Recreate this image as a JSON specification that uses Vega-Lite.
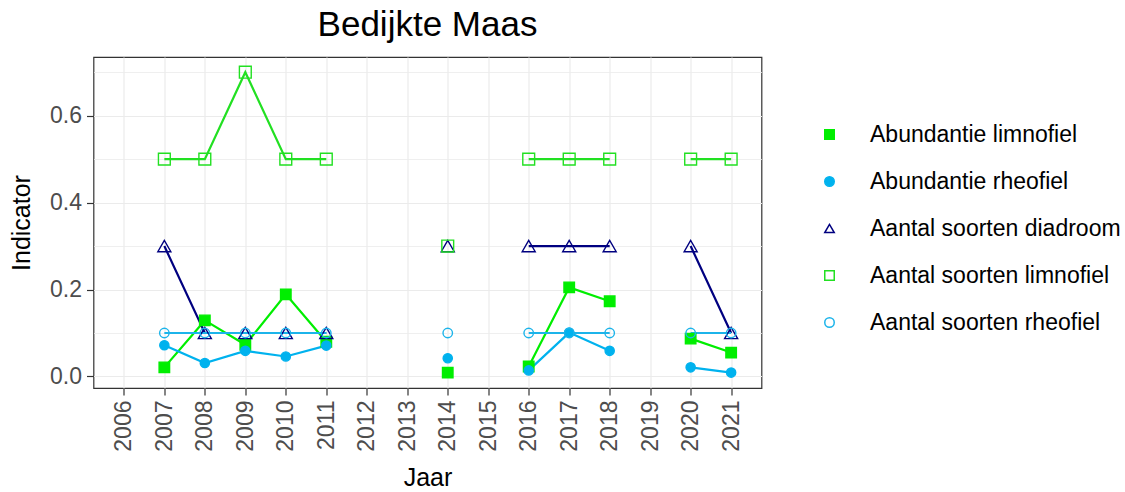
{
  "$schema": "https://vega.github.io/schema/vega-lite/v6.json",
  "width": 668,
  "height": 331,
  "autosize": {"type": "none"},
  "padding": {"left": 93.5, "top": 57, "right": 363.5, "bottom": 104},
  "background": "white",
  "title": {"text": "Bedijkte Maas", "fontSize": 35, "font": "Liberation Sans", "fontWeight": "normal", "color": "black", "anchor": "middle", "offset": 14},
  "config": {
    "font": "Liberation Sans",
    "view": {"stroke": "#333333", "strokeWidth": 1.2},
    "axis": {"domain": false, "gridColor": "#EBEBEB", "gridWidth": 1.2, "tickColor": "#333333", "tickSize": 7, "tickWidth": 1.2, "labelFontSize": 23, "labelColor": "#4D4D4D", "labelFont": "Liberation Sans", "titleFont": "Liberation Sans", "titleFontSize": 25, "titleFontWeight": "normal", "titleColor": "black", "labelPadding": 5}
  },
  "data": {"values": [
    {"jaar": 2007, "reeks": "Abundantie limnofiel", "indicator": 0.021},
    {"jaar": 2008, "reeks": "Abundantie limnofiel", "indicator": 0.129},
    {"jaar": 2009, "reeks": "Abundantie limnofiel", "indicator": 0.073},
    {"jaar": 2010, "reeks": "Abundantie limnofiel", "indicator": 0.189},
    {"jaar": 2011, "reeks": "Abundantie limnofiel", "indicator": 0.080},
    {"jaar": 2012, "reeks": "Abundantie limnofiel", "indicator": null},
    {"jaar": 2013, "reeks": "Abundantie limnofiel", "indicator": null},
    {"jaar": 2014, "reeks": "Abundantie limnofiel", "indicator": 0.009},
    {"jaar": 2015, "reeks": "Abundantie limnofiel", "indicator": null},
    {"jaar": 2016, "reeks": "Abundantie limnofiel", "indicator": 0.023},
    {"jaar": 2017, "reeks": "Abundantie limnofiel", "indicator": 0.205},
    {"jaar": 2018, "reeks": "Abundantie limnofiel", "indicator": 0.173},
    {"jaar": 2019, "reeks": "Abundantie limnofiel", "indicator": null},
    {"jaar": 2020, "reeks": "Abundantie limnofiel", "indicator": 0.087},
    {"jaar": 2021, "reeks": "Abundantie limnofiel", "indicator": 0.055},

    {"jaar": 2007, "reeks": "Abundantie rheofiel", "indicator": 0.072},
    {"jaar": 2008, "reeks": "Abundantie rheofiel", "indicator": 0.031},
    {"jaar": 2009, "reeks": "Abundantie rheofiel", "indicator": 0.059},
    {"jaar": 2010, "reeks": "Abundantie rheofiel", "indicator": 0.046},
    {"jaar": 2011, "reeks": "Abundantie rheofiel", "indicator": 0.071},
    {"jaar": 2012, "reeks": "Abundantie rheofiel", "indicator": null},
    {"jaar": 2013, "reeks": "Abundantie rheofiel", "indicator": null},
    {"jaar": 2014, "reeks": "Abundantie rheofiel", "indicator": 0.042},
    {"jaar": 2015, "reeks": "Abundantie rheofiel", "indicator": null},
    {"jaar": 2016, "reeks": "Abundantie rheofiel", "indicator": 0.014},
    {"jaar": 2017, "reeks": "Abundantie rheofiel", "indicator": 0.101},
    {"jaar": 2018, "reeks": "Abundantie rheofiel", "indicator": 0.059},
    {"jaar": 2019, "reeks": "Abundantie rheofiel", "indicator": null},
    {"jaar": 2020, "reeks": "Abundantie rheofiel", "indicator": 0.021},
    {"jaar": 2021, "reeks": "Abundantie rheofiel", "indicator": 0.009},

    {"jaar": 2007, "reeks": "Aantal soorten diadroom", "indicator": 0.3},
    {"jaar": 2008, "reeks": "Aantal soorten diadroom", "indicator": 0.1},
    {"jaar": 2009, "reeks": "Aantal soorten diadroom", "indicator": 0.1},
    {"jaar": 2010, "reeks": "Aantal soorten diadroom", "indicator": 0.1},
    {"jaar": 2011, "reeks": "Aantal soorten diadroom", "indicator": 0.1},
    {"jaar": 2012, "reeks": "Aantal soorten diadroom", "indicator": null},
    {"jaar": 2013, "reeks": "Aantal soorten diadroom", "indicator": null},
    {"jaar": 2014, "reeks": "Aantal soorten diadroom", "indicator": 0.3},
    {"jaar": 2015, "reeks": "Aantal soorten diadroom", "indicator": null},
    {"jaar": 2016, "reeks": "Aantal soorten diadroom", "indicator": 0.3},
    {"jaar": 2017, "reeks": "Aantal soorten diadroom", "indicator": 0.3},
    {"jaar": 2018, "reeks": "Aantal soorten diadroom", "indicator": 0.3},
    {"jaar": 2019, "reeks": "Aantal soorten diadroom", "indicator": null},
    {"jaar": 2020, "reeks": "Aantal soorten diadroom", "indicator": 0.3},
    {"jaar": 2021, "reeks": "Aantal soorten diadroom", "indicator": 0.1},

    {"jaar": 2007, "reeks": "Aantal soorten limnofiel", "indicator": 0.5},
    {"jaar": 2008, "reeks": "Aantal soorten limnofiel", "indicator": 0.5},
    {"jaar": 2009, "reeks": "Aantal soorten limnofiel", "indicator": 0.7},
    {"jaar": 2010, "reeks": "Aantal soorten limnofiel", "indicator": 0.5},
    {"jaar": 2011, "reeks": "Aantal soorten limnofiel", "indicator": 0.5},
    {"jaar": 2012, "reeks": "Aantal soorten limnofiel", "indicator": null},
    {"jaar": 2013, "reeks": "Aantal soorten limnofiel", "indicator": null},
    {"jaar": 2014, "reeks": "Aantal soorten limnofiel", "indicator": 0.3},
    {"jaar": 2015, "reeks": "Aantal soorten limnofiel", "indicator": null},
    {"jaar": 2016, "reeks": "Aantal soorten limnofiel", "indicator": 0.5},
    {"jaar": 2017, "reeks": "Aantal soorten limnofiel", "indicator": 0.5},
    {"jaar": 2018, "reeks": "Aantal soorten limnofiel", "indicator": 0.5},
    {"jaar": 2019, "reeks": "Aantal soorten limnofiel", "indicator": null},
    {"jaar": 2020, "reeks": "Aantal soorten limnofiel", "indicator": 0.5},
    {"jaar": 2021, "reeks": "Aantal soorten limnofiel", "indicator": 0.5},

    {"jaar": 2007, "reeks": "Aantal soorten rheofiel", "indicator": 0.1},
    {"jaar": 2008, "reeks": "Aantal soorten rheofiel", "indicator": 0.1},
    {"jaar": 2009, "reeks": "Aantal soorten rheofiel", "indicator": 0.1},
    {"jaar": 2010, "reeks": "Aantal soorten rheofiel", "indicator": 0.1},
    {"jaar": 2011, "reeks": "Aantal soorten rheofiel", "indicator": 0.1},
    {"jaar": 2012, "reeks": "Aantal soorten rheofiel", "indicator": null},
    {"jaar": 2013, "reeks": "Aantal soorten rheofiel", "indicator": null},
    {"jaar": 2014, "reeks": "Aantal soorten rheofiel", "indicator": 0.1},
    {"jaar": 2015, "reeks": "Aantal soorten rheofiel", "indicator": null},
    {"jaar": 2016, "reeks": "Aantal soorten rheofiel", "indicator": 0.1},
    {"jaar": 2017, "reeks": "Aantal soorten rheofiel", "indicator": 0.1},
    {"jaar": 2018, "reeks": "Aantal soorten rheofiel", "indicator": 0.1},
    {"jaar": 2019, "reeks": "Aantal soorten rheofiel", "indicator": null},
    {"jaar": 2020, "reeks": "Aantal soorten rheofiel", "indicator": 0.1},
    {"jaar": 2021, "reeks": "Aantal soorten rheofiel", "indicator": 0.1}
  ]},
  "encoding": {
    "x": {
      "field": "jaar", "type": "quantitative",
      "scale": {"domain": [2005.25, 2021.75], "nice": false, "zero": false},
      "axis": {"title": "Jaar", "values": [2006, 2007, 2008, 2009, 2010, 2011, 2012, 2013, 2014, 2015, 2016, 2017, 2018, 2019, 2020, 2021], "format": "d", "labelAngle": -90, "labelAlign": "right", "labelBaseline": "middle", "titlePadding": 14}
    },
    "y": {
      "field": "indicator", "type": "quantitative",
      "scale": {"domain": [-0.0265, 0.735], "nice": false, "zero": false},
      "axis": {
        "title": "Indicator",
        "values": [0, 0.1, 0.2, 0.3, 0.4, 0.5, 0.6, 0.7],
        "labelExpr": "round(datum.value*10) % 2 === 0 ? format(datum.value, '.1f') : ''",
        "tickOpacity": {"condition": {"test": "round(datum.value*10) % 2 === 1", "value": 0}, "value": 1},
        "gridWidth": {"condition": {"test": "round(datum.value*10) % 2 === 1", "value": 0.8}, "value": 1.2},
        "titlePadding": 15
      }
    },
    "stroke": {
      "field": "reeks", "type": "nominal",
      "scale": {
        "domain": ["Abundantie limnofiel", "Abundantie rheofiel", "Aantal soorten diadroom", "Aantal soorten limnofiel", "Aantal soorten rheofiel"],
        "range": ["#00EE00", "#00B2EE", "#000080", "#22E022", "#1CB4EA"]
      },
      "legend": {
        "title": null,
        "orient": "none",
        "legendX": 724.5,
        "legendY": 66,
        "padding": 0,
        "labelFontSize": 23,
        "labelColor": "black",
        "labelFont": "Liberation Sans",
        "labelLimit": 400,
        "symbolSize": 90,
        "labelOffset": 29,
        "rowPadding": 23,
        "symbolStrokeWidth": 1.5
      }
    }
  },
  "layer": [
    {"mark": {"type": "line", "strokeWidth": 2.2}},
    {
      "mark": {"type": "point", "opacity": 1, "strokeWidth": 1.4},
      "encoding": {
        "shape": {
          "field": "reeks", "type": "nominal",
          "scale": {
            "domain": ["Abundantie limnofiel", "Abundantie rheofiel", "Aantal soorten diadroom", "Aantal soorten limnofiel", "Aantal soorten rheofiel"],
            "range": ["square", "circle", "triangle-up", "square", "circle"]
          },
          "legend": null
        },
        "fill": {
          "field": "reeks", "type": "nominal",
          "scale": {
            "domain": ["Abundantie limnofiel", "Abundantie rheofiel", "Aantal soorten diadroom", "Aantal soorten limnofiel", "Aantal soorten rheofiel"],
            "range": ["#00EE00", "#00B2EE", "transparent", "transparent", "transparent"]
          },
          "legend": null
        },
        "size": {
          "condition": [
            {"test": "datum.reeks === 'Aantal soorten diadroom'", "value": 170},
            {"test": "datum.reeks === 'Aantal soorten limnofiel'", "value": 140},
            {"test": "datum.reeks === 'Abundantie limnofiel'", "value": 110},
            {"test": "datum.reeks === 'Aantal soorten rheofiel'", "value": 90}
          ],
          "value": 85
        }
      }
    }
  ]
}
